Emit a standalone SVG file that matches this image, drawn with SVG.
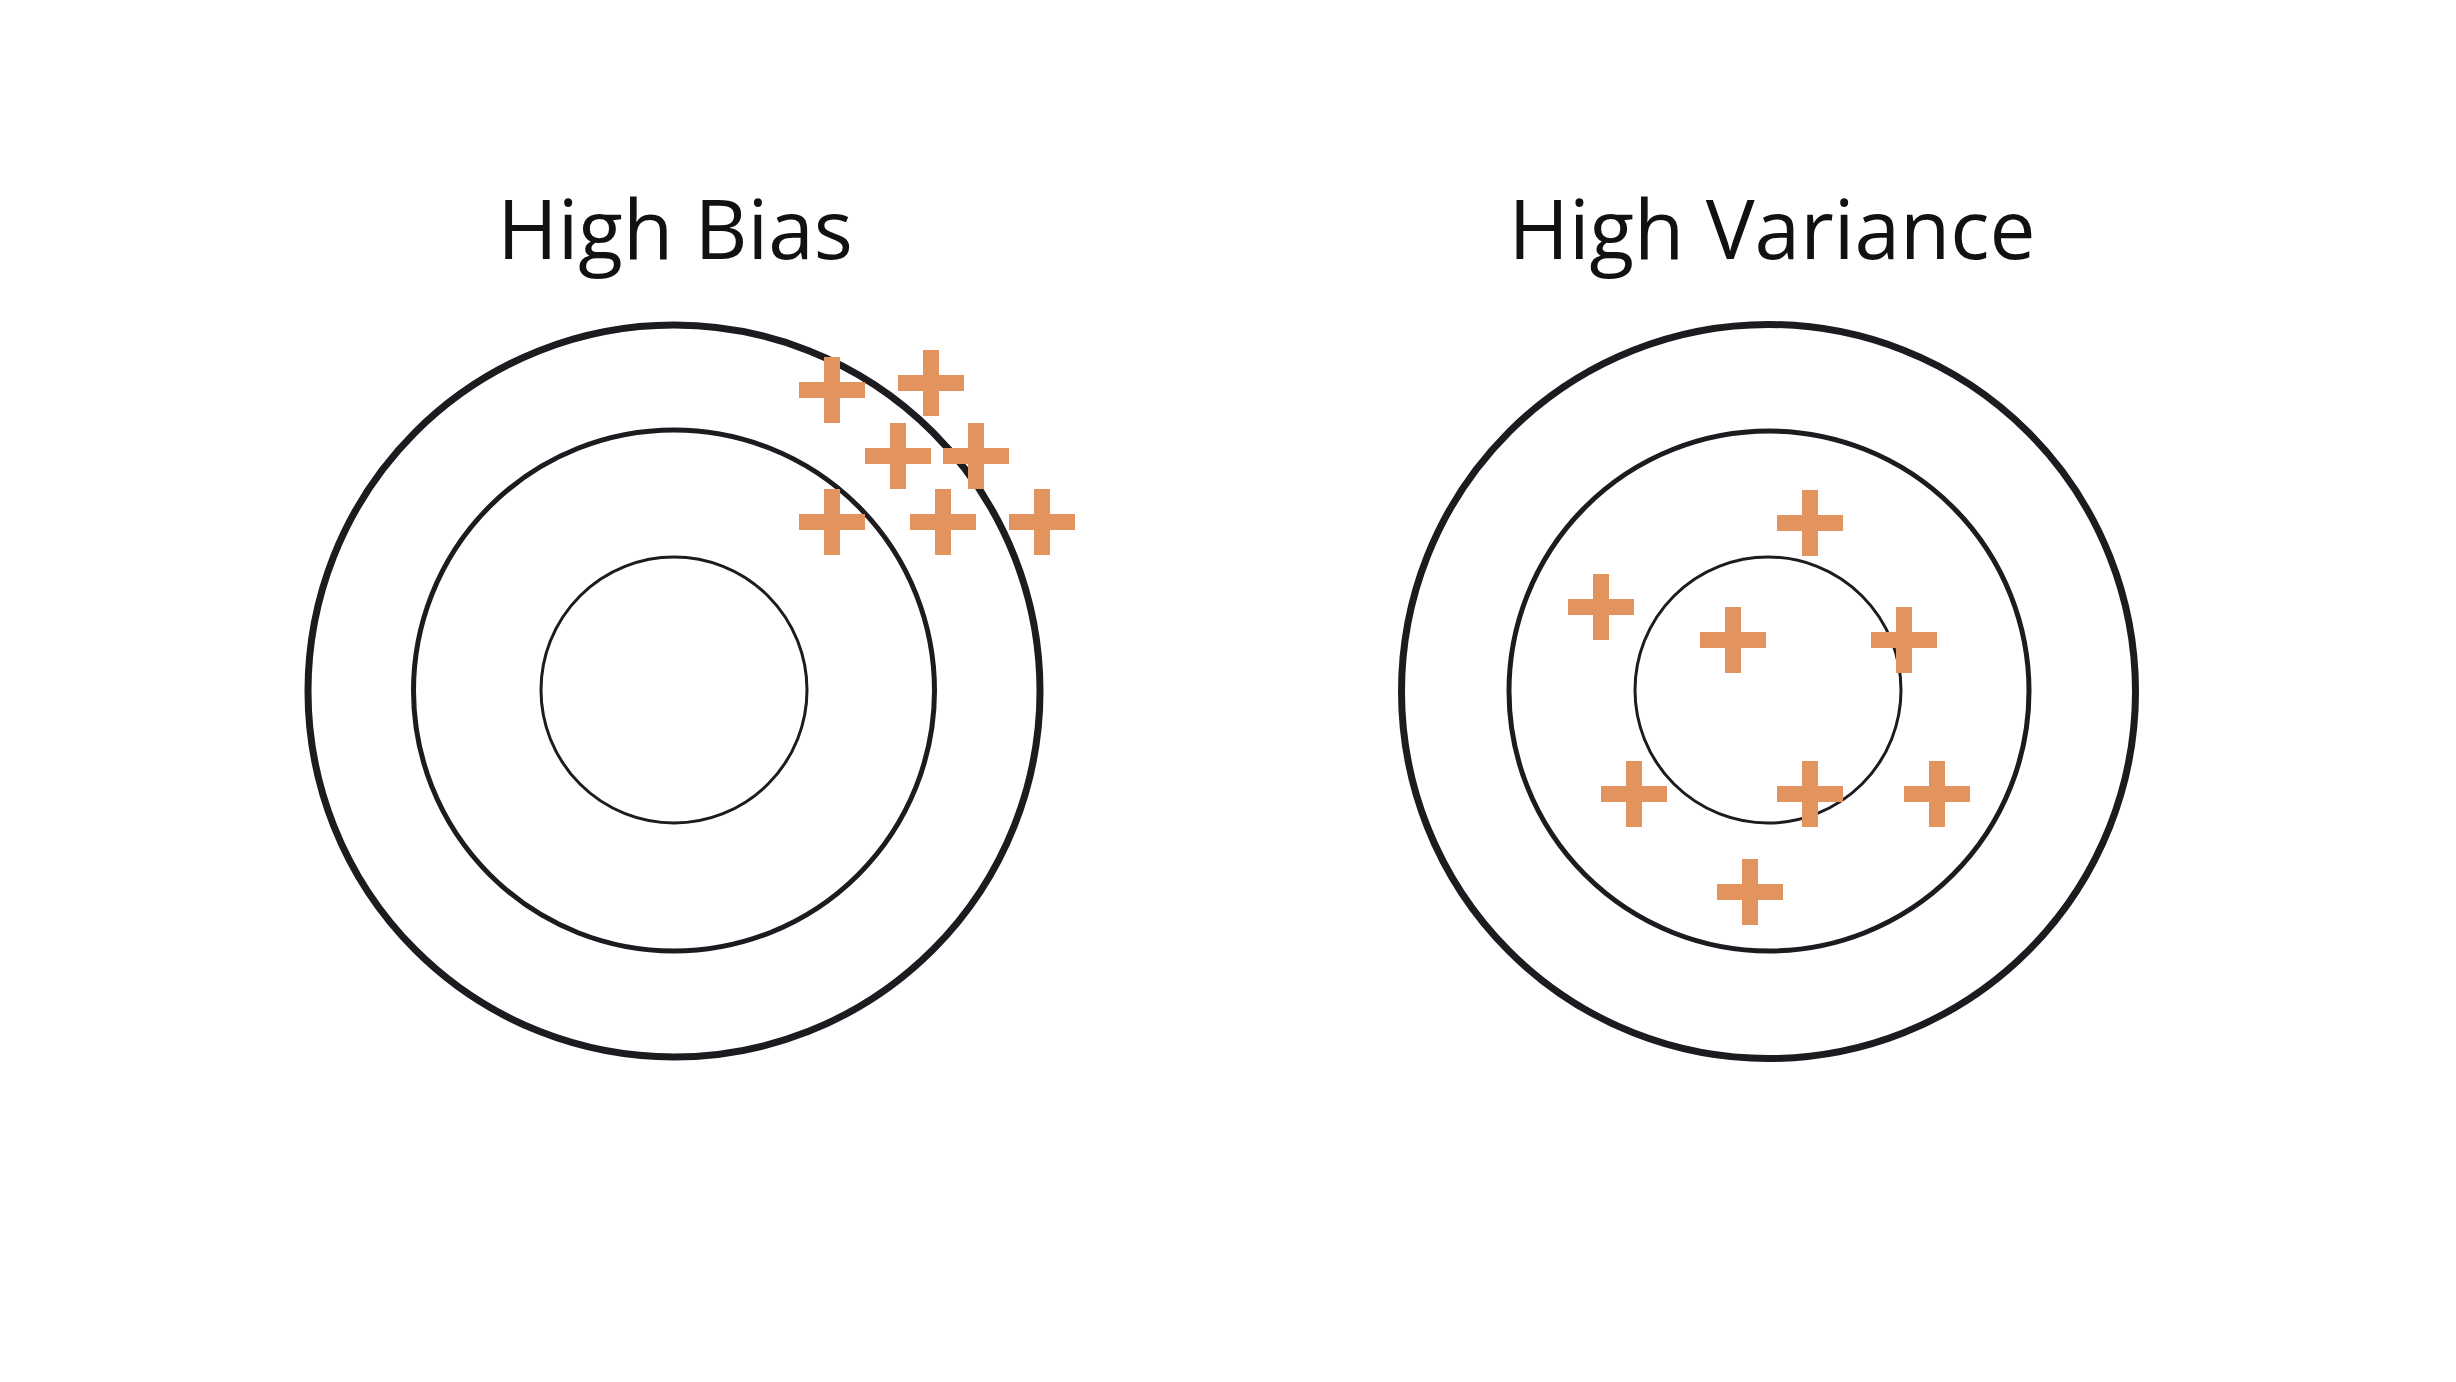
<svg xmlns="http://www.w3.org/2000/svg" width="2456" height="1382" viewBox="0 0 2456 1382">
<defs>
<style>
.title{font-family:"Open Sans","Noto Sans","Liberation Sans",sans-serif;font-size:82px;fill:#111;text-anchor:middle}
.ring{fill:none;stroke:#1c1b20}
.outer{stroke-width:7}
.mid{stroke-width:5}
.inner{stroke-width:3}
.plus{fill:#e3935d}
</style>
<path id="plus" d="M-8,-33H8V-8H33V8H8V33H-8V8H-33V-8H-8Z"/>
</defs>
<rect width="2456" height="1382" fill="#fff"/>
<g id="high-bias">
<text class="title" x="675" y="259">High Bias</text>
<circle class="ring outer" cx="674" cy="691" r="366"/>
<circle class="ring mid" cx="674" cy="690.5" r="260.5"/>
<circle class="ring inner" cx="674" cy="690" r="133"/>
<g class="plus">
<use href="#plus" x="832" y="390"/>
<use href="#plus" x="931" y="383"/>
<use href="#plus" x="898" y="456"/>
<use href="#plus" x="976" y="456"/>
<use href="#plus" x="832" y="522"/>
<use href="#plus" x="943" y="522"/>
<use href="#plus" x="1042" y="522"/>
</g>
</g>
<g id="high-variance">
<text class="title" x="1772" y="259">High Variance</text>
<circle class="ring outer" cx="1768.5" cy="691.5" r="367"/>
<circle class="ring mid" cx="1769" cy="691" r="260"/>
<circle class="ring inner" cx="1768" cy="690" r="133"/>
<g class="plus">
<use href="#plus" x="1810" y="523"/>
<use href="#plus" x="1601" y="607"/>
<use href="#plus" x="1733" y="640"/>
<use href="#plus" x="1904" y="640"/>
<use href="#plus" x="1634" y="794"/>
<use href="#plus" x="1810" y="794"/>
<use href="#plus" x="1937" y="794"/>
<use href="#plus" x="1750" y="892"/>
</g>
</g>
<g id="connectors"/>
</svg>
